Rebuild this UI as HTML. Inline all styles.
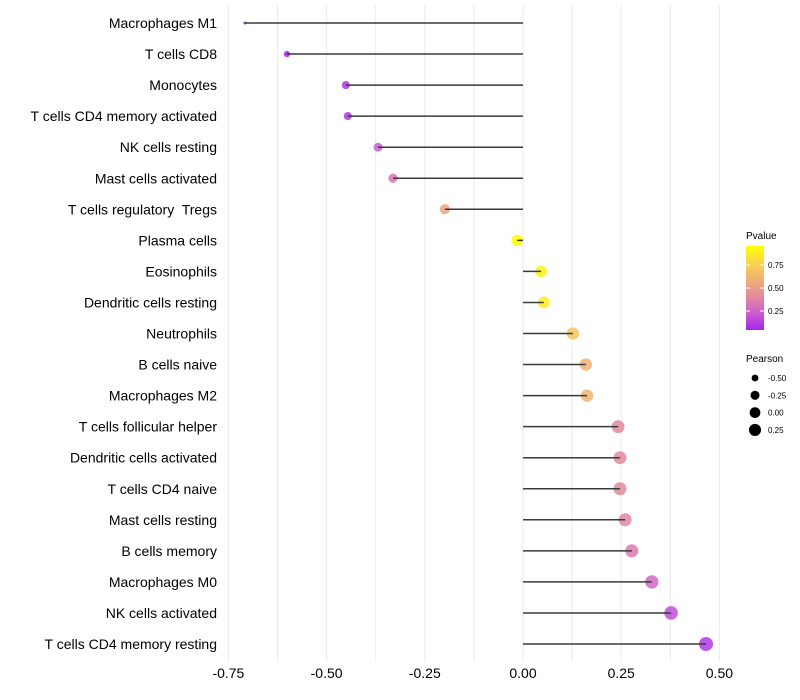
<!DOCTYPE html>
<html><head><meta charset="utf-8"><style>
body{margin:0;background:#fff;font-family:"Liberation Sans",sans-serif}
svg{display:block}
svg text{white-space:pre}
</style></head><body>
<svg id="chart" width="800" height="700"></svg>
<script>
const categories=["Macrophages M1","T cells CD8","Monocytes","T cells CD4 memory activated","NK cells resting","Mast cells activated","T cells regulatory  Tregs","Plasma cells","Eosinophils","Dendritic cells resting","Neutrophils","B cells naive","Macrophages M2","T cells follicular helper","Dendritic cells activated","T cells CD4 naive","Mast cells resting","B cells memory","Macrophages M0","NK cells activated","T cells CD4 memory resting"];
const pearson=[-0.708,-0.601,-0.451,-0.446,-0.369,-0.331,-0.199,-0.015,0.046,0.053,0.127,0.160,0.163,0.242,0.247,0.247,0.260,0.277,0.328,0.377,0.466];
const pvalue=[0.001,0.01,0.08,0.08,0.2,0.3,0.52,0.96,0.9,0.88,0.7,0.6,0.6,0.4,0.4,0.4,0.38,0.33,0.25,0.15,0.08];
const xTicks=[-0.75,-0.5,-0.25,0,0.25,0.5];
const xTickLabels=["-0.75","-0.50","-0.25","0.00","0.25","0.50"];
const pTicks=[0.25,0.5,0.75];
const sizeLegend=[-0.5,-0.25,0,0.25];

const NS="http://www.w3.org/2000/svg";
const svg=document.getElementById('chart');
function mk(t,a,p){const e=document.createElementNS(NS,t);for(const k in a)e.setAttribute(k,a[k]);(p||svg).appendChild(e);return e;}
const x=v=>523+v*392.8;
const y=i=>23+i*31.05;
const r=v=>1.5+5.5*Math.sqrt(Math.max(0,(v+0.708)/1.174));
const stops=[[0,160,32,240],[0.2,200,90,210],[0.4,225,135,160],[0.6,240,175,120],[0.8,250,210,80],[1,255,255,0]];
function col(p){let t=Math.max(0,Math.min(1,p/0.96));
 for(let i=1;i<stops.length;i++){if(t<=stops[i][0]){const a=stops[i-1],b=stops[i],f=(t-a[0])/(b[0]-a[0]);
  return `rgb(${Math.round(a[1]+(b[1]-a[1])*f)},${Math.round(a[2]+(b[2]-a[2])*f)},${Math.round(a[3]+(b[3]-a[3])*f)})`;}}
 return 'rgb(255,255,0)';}

for(let v=-0.75;v<=0.51;v+=0.125){
 const g=mk('line',{x1:x(v),x2:x(v),y1:5,y2:662,stroke:'#ebebeb','stroke-width':1});
 
}
xTicks.forEach((v,i)=>{
 const t=mk('text',{x:x(v),y:678,'text-anchor':'middle','font-size':14,fill:'#000'});t.textContent=xTickLabels[i];
 
});
categories.forEach((c,i)=>{
 const t=mk('text',{x:217,y:y(i)+5,'text-anchor':'end','font-size':14,fill:'#000'});t.textContent=c;
 
 const d=mk('circle',{cx:x(pearson[i]),cy:y(i),r:r(pearson[i]),fill:col(pvalue[i]),'fill-opacity':0.85});
 
 const l=mk('line',{x1:x(0),x2:x(pearson[i]),y1:y(i),y2:y(i),stroke:'#3a3a3a','stroke-width':1.5});
 
});
const lt=mk('text',{x:746,y:239,'font-size':10});lt.textContent='Pvalue';

const defs=mk('defs',{});const gr=mk('linearGradient',{id:'pg',x1:0,y1:1,x2:0,y2:0},defs);
for(let k=0;k<=10;k++){const p=0.02+k*0.094;mk('stop',{offset:k/10,'stop-color':col(p)},gr);}
const cb=mk('rect',{x:746,y:246,width:18,height:84,fill:'url(#pg)'});

pTicks.forEach(p=>{const yy=334-p*92;
 mk('line',{x1:746,x2:750,y1:yy,y2:yy,stroke:'#fff'});mk('line',{x1:760,x2:764,y1:yy,y2:yy,stroke:'#fff'});
 const t=mk('text',{x:768,y:yy+3,'font-size':8});t.textContent=p.toFixed(2);
 });
const st=mk('text',{x:746,y:362,'font-size':10});st.textContent='Pearson';

sizeLegend.forEach((v,i)=>{const yy=378+i*17.3;
 const c=mk('circle',{cx:755,cy:yy,r:r(v)-0.4,fill:'#000'});
 
 const t=mk('text',{x:768,y:yy+3,'font-size':8});t.textContent=v.toFixed(2);
 });
</script>
</body></html>
